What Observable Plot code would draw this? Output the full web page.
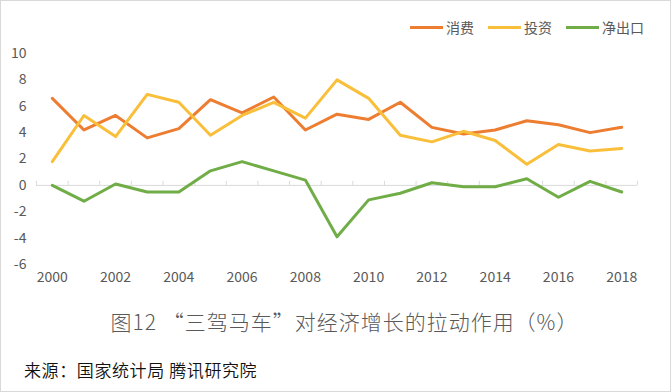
<!DOCTYPE html>
<html>
<head>
<meta charset="utf-8">
<script src="https://cdn.jsdelivr.net/npm/d3@7"></script>
<script src="https://cdn.jsdelivr.net/npm/@observablehq/plot@0.6"></script>
<style>
  html, body { margin: 0; padding: 0; background: #fff; }
  #wrap { position: relative; width: 671px; height: 392px; overflow: hidden; background: #fff;
          font-family: "Noto Sans CJK SC", "Noto Sans", sans-serif; }
  #frame { position: absolute; left: 0; top: 0; width: 671px; height: 392px; box-sizing: border-box;
           border: 1px solid #d9d9d9; pointer-events: none; }
  #chart { position: absolute; left: 0; top: 0; }
  #legend { position: absolute; left: 410px; top: 17px; display: flex; align-items: center; gap: 14px;
            font-size: 14px; color: #595959; line-height: 20px; }
  .item { display: flex; align-items: center; gap: 3px; }
  .sw { width: 33px; height: 3px; }
  #title { position: absolute; left: 0; width: 689px; top: 306px; text-align: center; font-size: 21px;
           font-weight: 300; letter-spacing: 1px; color: #595959; line-height: 30px; white-space: nowrap; }
  #source { position: absolute; left: 24px; top: 358px; font-size: 17px; color: #111; line-height: 24px;
            font-weight: 350; letter-spacing: 0.6px; white-space: nowrap; }
</style>
</head>
<body>
<div id="wrap">
  <div id="chart"></div>
  <div id="legend"></div>
  <div id="title"></div>
  <div id="source"></div>
  <div id="frame"></div>
</div>
<script>
const years = [2000, 2001, 2002, 2003, 2004, 2005, 2006, 2007, 2008, 2009, 2010, 2011, 2012, 2013, 2014, 2015, 2016, 2017, 2018];
const consumption = [6.6, 4.2, 5.3, 3.6, 4.3, 6.5, 5.5, 6.7, 4.2, 5.4, 5.0, 6.3, 4.4, 3.9, 4.2, 4.9, 4.6, 4.0, 4.4];
const investment  = [1.8, 5.3, 3.7, 6.9, 6.3, 3.8, 5.3, 6.3, 5.1, 8.0, 6.6, 3.8, 3.3, 4.1, 3.4, 1.6, 3.1, 2.6, 2.8];
const netExports  = [0.0, -1.2, 0.1, -0.5, -0.5, 1.1, 1.8, 1.1, 0.4, -3.9, -1.1, -0.6, 0.2, -0.1, -0.1, 0.5, -0.9, 0.3, -0.5];
const seriesNames = ["消费", "投资", "净出口"];
const seriesColors = ["#ED7D31", "#FABF3A", "#70AD47"];
const yTicks = [-6, -4, -2, 0, 2, 4, 6, 8, 10];
const xTickYears = [2000, 2002, 2004, 2006, 2008, 2010, 2012, 2014, 2016, 2018];
const titleText = "图12 “三驾马车”对经济增长的拉动作用（%）";
const sourceText = "来源：国家统计局 腾讯研究院";

const seriesValues = [consumption, investment, netExports];
const data = [];
seriesNames.forEach((name, s) => {
  years.forEach((yr, i) => data.push({series: name, year: yr, value: seriesValues[s][i]}));
});
const boundaries = years.map(y => y - 0.5).concat([years[years.length - 1] + 0.5]);

const chart = Plot.plot({
  width: 671,
  height: 300,
  marginLeft: 36,
  marginRight: 34,
  marginTop: 53,
  marginBottom: 36,
  style: {fontFamily: "'Noto Sans CJK SC', 'Noto Sans', sans-serif", fontSize: "14px", color: "#595959", background: "transparent"},
  x: {type: "linear", domain: [years[0] - 0.5, years[years.length - 1] + 0.5]},
  y: {domain: [-6, 10]},
  color: {domain: seriesNames, range: seriesColors},
  marks: [
    Plot.ruleY([0], {stroke: "#d9d9d9", strokeWidth: 1}),
    Plot.ruleX(boundaries, {x: d => d, y1: 0, y2: 0, insetBottom: 4, stroke: "#d9d9d9", strokeWidth: 1}),
    Plot.line(data, {x: "year", y: "value", z: "series", stroke: "series", strokeWidth: 3, strokeLinejoin: "round", strokeLinecap: "round"}),
    Plot.axisY({ticks: yTicks, tickSize: 0, tickPadding: 10, label: null, tickFormat: d => String(d)}),
    Plot.axisX({ticks: xTickYears, tickSize: 0, tickPadding: 8, label: null, tickFormat: d => String(d)})
  ]
});
document.getElementById("chart").appendChild(chart);

const legend = document.getElementById("legend");
seriesNames.forEach((name, i) => {
  const item = document.createElement("div");
  item.className = "item";
  const sw = document.createElement("div");
  sw.className = "sw";
  sw.style.background = seriesColors[i];
  const label = document.createElement("span");
  label.textContent = name;
  item.appendChild(sw);
  item.appendChild(label);
  legend.appendChild(item);
});
document.getElementById("title").textContent = titleText;
document.getElementById("source").textContent = sourceText;
</script>
</body>
</html>
